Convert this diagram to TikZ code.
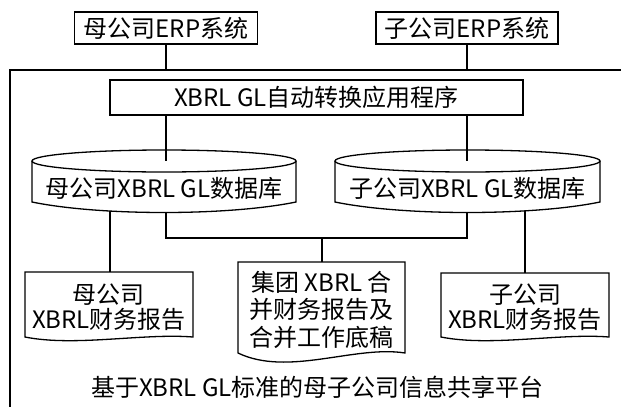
\documentclass[tikz,border=0pt]{standalone}
\usepackage{fontspec}
\setmainfont{Noto Sans CJK SC}
\newcommand{\mylbl}{\fontsize{24pt}{25pt}\selectfont}
\begin{document}
\begin{tikzpicture}[x=1pt,y=-1pt,
  box/.style={draw,line width=1.3pt,inner sep=0pt,font=\mylbl},
  lbl/.style={inner sep=0pt,font=\mylbl,align=center},
  conn/.style={line width=1.1pt},
  shp/.style={line width=1.3pt},
  frm/.style={line width=2pt}]
\useasboundingbox (0,0) rectangle (621,407);
% outer frame
\draw[frm] (621,70) -- (10,70) -- (10,407);
\coordinate (ftL) at (166,70);
\coordinate (ftR) at (467,70);
% ERP systems
\node[box,minimum width=183pt,minimum height=32pt] (erpL) at (166,28) {母公司ERP系统};
\node[box,minimum width=182pt,minimum height=32pt] (erpR) at (467,28) {子公司ERP系统};
% application
\node[box,minimum width=413pt,minimum height=35pt] (app) at (316.5,97.5) {XBRL GL自动转换应用程序};
% databases
\draw[shp,fill=white] (32,161) -- (32,202) .. controls (100,216) and (228,216) .. (296,202) -- (296,161);
\draw[shp] (164,161) ellipse [x radius=132, y radius=11];
\draw[shp,fill=white] (335,161) -- (335,202) .. controls (403,216) and (532,216) .. (600,202) -- (600,161);
\draw[shp] (467.5,161) ellipse [x radius=132.5, y radius=11];
\coordinate (dbLt) at (166,161);
\coordinate (dbRt) at (467,161);
\coordinate (dbLb1) at (110,211);
\coordinate (dbLb2) at (166,212.5);
\coordinate (dbRb1) at (467,212.5);
\coordinate (dbRb2) at (525,211);
\node[lbl] (dbL) at (164,188) {母公司XBRL GL数据库};
\node[lbl] (dbR) at (467.5,188) {子公司XBRL GL数据库};
% reports
\draw[shp] (25,272) -- (193,272) -- (193,337) .. controls (143,333) and (75,347) .. (25,337) -- cycle;
\draw[shp] (238,262) -- (405,262) -- (405,353) .. controls (355,345) and (288,377) .. (238,353) -- cycle;
\draw[shp] (441,273) -- (609,273) -- (609,337) .. controls (559,333) and (491,347) .. (441,337) -- cycle;
\coordinate (rpLt) at (110,272);
\coordinate (rpCt) at (322,262);
\coordinate (rpRt) at (525,273);
\node[lbl] (rpL) at (109,307.5) {母公司\\XBRL财务报告};
\node[lbl,font=\fontsize{24pt}{27.5pt}\selectfont] (rpC) at (321.5,309.5) {集团 XBRL 合\\并财务报告及\\合并工作底稿};
\node[lbl] (rpR) at (525,307.5) {子公司\\XBRL财务报告};
% platform label
\node[lbl] (plat) at (317.5,387) {基于XBRL GL标准的母子公司信息共享平台};
% connectors
\draw[conn] (erpL.south) -- (ftL);
\draw[conn] (erpR.south) -- (ftR);
\draw[conn] (app.south -| dbLt) -- (dbLt);
\draw[conn] (app.south -| dbRt) -- (dbRt);
\draw[conn] (dbLb1) -- (rpLt);
\draw[conn] (dbLb2) -- (166,238) -| (dbRb1);
\draw[conn] (322,238) -- (rpCt);
\draw[conn] (dbRb2) -- (rpRt);
\end{tikzpicture}
\end{document}
